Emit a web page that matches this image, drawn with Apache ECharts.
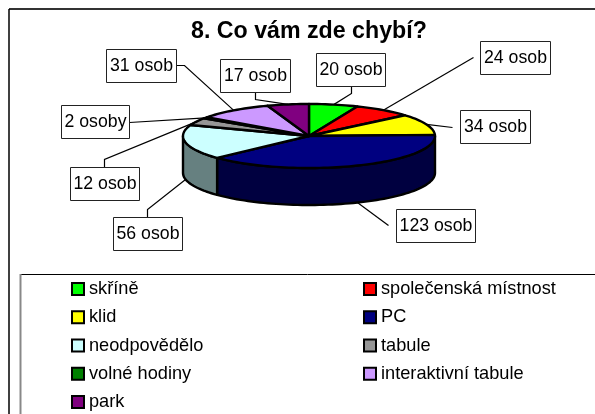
<!DOCTYPE html>
<html><head><meta charset="utf-8">
<style>html,body{margin:0;padding:0;background:#fff}#c{width:595px;height:414px}</style>
<script src="https://cdn.jsdelivr.net/npm/echarts@6/dist/echarts.min.js"></script>
</head><body><div id="c"></div>
<script>
const categories = ['skříně','společenská místnost','klid','PC','neodpovědělo','tabule','volné hodiny','interaktivní tabule','park'];
const values = [20,24,34,123,56,12,2,31,17];
const labels = ['20 osob','24 osob','34 osob','123 osob','56 osob','12 osob','2 osoby','31 osob','17 osob'];
const colors = ['#00FF00','#FF0000','#FFFF00','#000080','#CCFFFF','#969696','#008000','#CC99FF','#800080'];
const wallColors = ['#008000','#800000','#808000','#000040','#668080','#4B4B4B','#004000','#664C80','#400040'];
// layout only
const pie = {cx:309, cy:136, rx:126, ry:32, depth:37};
const boxes = [[316,53,69,33],[480,41,70,33],[460,110,70,33],[396,209,79,33],[113,217,69,33],[70,167,69,33],[61,105,68,33],[106,49,70,33],[220,59,70,33]];
const elbows = [[351,93],[473,57],[452,127],[388,225],[147,209],[104,159],null,[184,65],[255,99]];
const starts = [351,473,452,388,147,104,129,176,255];
const startY = [86,57,127,225,217,167,122,65,92];

const total = values.reduce((a,b)=>a+b,0);
const D = Math.PI/180;
const pt = (deg,dy=0)=>[pie.cx+pie.rx*Math.sin(deg*D), pie.cy-pie.ry*Math.cos(deg*D)+dy];
function arc(a,b,dy=0){const n=Math.max(2,Math.ceil(Math.abs(b-a)/2));const r=[];for(let i=0;i<=n;i++)r.push(pt(a+(b-a)*i/n,dy));return r;}

function renderSlice(i){
  return function(params,api){
    const v=api.value(0);
    let before=0;for(let k=0;k<i;k++)before+=values[k];
    const a=before/total*360,b=(before+v)/total*360,mid=(a+b)/2;
    const kids=[];
    const wa=Math.max(a,90),wb=Math.min(b,270);
    if(wb>wa){
      kids.push({type:'polygon',shape:{points:arc(wa,wb).concat(arc(wb,wa,pie.depth))},
        style:{fill:wallColors[i],stroke:'#000',lineWidth:2.4,lineJoin:'round'}});
    }
    kids.push({type:'polygon',shape:{points:[[pie.cx,pie.cy]].concat(arc(a,b))},
      style:{fill:colors[i],stroke:'#000',lineWidth:2.4,lineJoin:'round'}});
    const front=mid>90&&mid<270;
    const anchor=pt(mid,front?pie.depth:0);
    const pts=[[starts[i]+.5,startY[i]+.5]];
    if(elbows[i])pts.push([elbows[i][0]+.5,elbows[i][1]+.5]);
    pts.push(anchor);
    kids.push({type:'polyline',shape:{points:pts},style:{fill:null,stroke:'#000',lineWidth:1.2}});
    const bx=boxes[i];
    kids.push({type:'rect',shape:{x:bx[0]+.5,y:bx[1]+.5,width:bx[2],height:bx[3]},style:{fill:'#fff',stroke:'#222',lineWidth:1}});
    kids.push({type:'text',style:{text:labels[i],x:bx[0]+bx[2]/2+.5,y:bx[1]+bx[3]/2+.5,align:'center',verticalAlign:'middle',
      font:'17.7px "Liberation Sans"',fill:'#000'}});
    return {type:'group',children:kids};
  };
}

const legendBase={orient:'vertical',icon:'rect',itemWidth:12,itemHeight:12,itemGap:10.25,selectedMode:false,padding:0,
  itemStyle:{borderColor:'#000',borderWidth:2},
  textStyle:{fontFamily:'"Liberation Sans"',fontSize:18.2,color:'#000'}};
const line=(x1,y1,x2,y2,stroke,w)=>({type:'line',shape:{x1,y1,x2,y2},style:{stroke,lineWidth:w},silent:true});

const chart=echarts.init(document.getElementById('c'),null,{renderer:'canvas'});
chart.setOption({
  animation:false,
  backgroundColor:'#fff',
  title:{text:'8. Co vám zde chybí?',left:191,top:20,padding:0,
    textStyle:{fontFamily:'"Liberation Sans"',fontSize:23.2,fontWeight:'bold',color:'#000'}},
  legend:[
    Object.assign({},legendBase,{left:71,top:280,data:categories.filter((c,i)=>i%2===0)}),
    Object.assign({},legendBase,{left:363,top:280,data:categories.filter((c,i)=>i%2===1)})
  ],
  graphic:[
    line(9,9,595,9,'#333',2),
    line(9,9,9,414,'#000',1.5),
    line(20,274.5,595,274.5,'#000',1),
    line(20.5,274,20.5,414,'#888',2)
  ],
  series:categories.map((name,i)=>({
    type:'custom',name,coordinateSystem:'none',silent:true,clip:false,
    itemStyle:{color:colors[i]},
    data:[[values[i]]],
    renderItem:renderSlice(i)
  }))
});
</script></body></html>
